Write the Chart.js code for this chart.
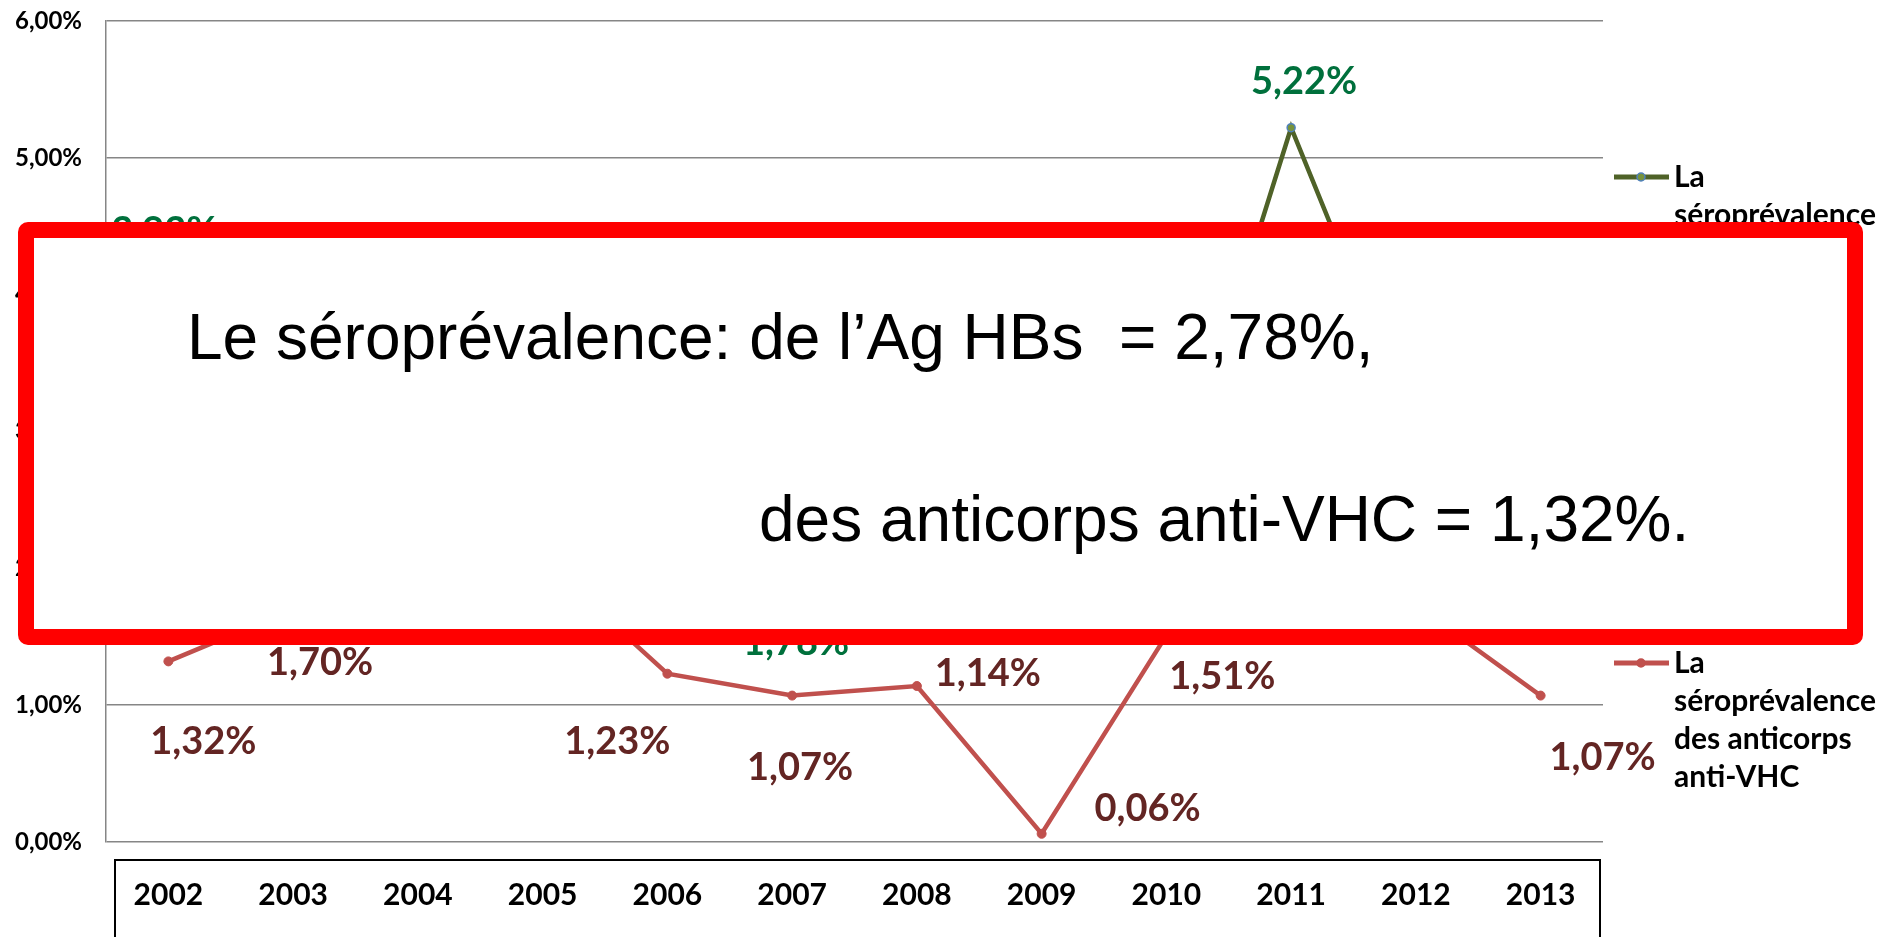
<!DOCTYPE html>
<html>
<head>
<meta charset="utf-8">
<script src="https://cdn.jsdelivr.net/npm/chart.js@4.4.0/dist/chart.umd.min.js"></script>
<style>
    html, body { margin: 0; padding: 0; background: #fff; }
    #wrap { position: relative; width: 1897px; height: 937px; overflow: hidden; }
    #chart { position: absolute; left: 0; top: 0; }
    #note {
        position: absolute; left: 18px; top: 222px; width: 1845px; height: 423px;
        box-sizing: border-box; border: 16px solid #ff0000; border-radius: 10px;
        background: #fff;
    }
    .line {
        position: absolute; font-family: "Liberation Sans", Arial, sans-serif;
        font-size: 64px; line-height: 64px; color: #000; white-space: pre;
    }
</style>
</head>
<body>
<div id="wrap">
    <canvas id="chart" width="1897" height="937"></canvas>
    <div id="note">
        <div class="line" style="left:153px; top:67px;">Le séroprévalence: de l’Ag HBs  = 2,78%,</div>
        <div class="line" style="left:725px; top:249px;">des anticorps anti-VHC = 1,32%.</div>
    </div>
</div>
<script>
// Séroprévalence Ag HBs / anticorps anti-VHC, 2002-2013

const years = ['2002', '2003', '2004', '2005', '2006', '2007', '2008', '2009', '2010', '2011', '2012', '2013'];
const agHBs = [3.93, 2.50, 2.20, 2.60, 2.40, 1.78, 2.10, 1.90, 2.31, 5.22, 2.98, 2.50];
const antiVHC = [1.32, 1.70, 1.62, 2.06, 1.23, 1.07, 1.14, 0.06, 1.51, 1.58, 1.73, 1.07];
const yTicks = [0, 1, 2, 3, 4, 5, 6];

const legendHBs = ['La', 'séroprévalence', 'de l’Ag HBs'];
const legendVHC = ['La', 'séroprévalence', 'des anticorps', 'anti-VHC'];

// labels were moved by hand in the original, so keep a shift per point
const hbsLabelShift = [[-4, -72], [13, -46], [13, -46], [13, -46], [13, -46], [4, 44],
                       [13, -46], [13, -46], [13, -46], [13, -46], [13, -46], [13, -46]];
const vhcLabelShift = [[35, 80], [27, 53], [0, -50], [0, -50], [-50, 68], [8, 72],
                       [71, -12], [106, -25], [56, 41], [0, -50], [0, -50], [62, 62]];

const FONT = 'Lato, "Open Sans", sans-serif';

function pct(v) {
    return v.toFixed(2).replace('.', ',') + '%';
}

const valueLabels = {
    id: 'valueLabels',
    afterDatasetsDraw(chart) {
        const ctx = chart.ctx;
        ctx.save();
        ctx.font = 'bold 38px ' + FONT;
        ctx.textAlign = 'center';
        ctx.textBaseline = 'middle';
        chart.data.datasets.forEach((ds, i) => {
            const meta = chart.getDatasetMeta(i);
            meta.data.forEach((pt, j) => {
                const s = ds.labelShift[j];
                ctx.fillStyle = ds.labelColor;
                ctx.fillText(pct(ds.data[j]), pt.x + s[0], pt.y + s[1]);
            });
        });
        ctx.restore();
    }
};

const sideLegend = {
    id: 'sideLegend',
    afterDraw(chart) {
        const ctx = chart.ctx;
        const x0 = chart.chartArea.right + 11;
        const tops = [177, 663];
        ctx.save();
        chart.data.datasets.forEach((ds, i) => {
            const y = tops[i];
            ctx.strokeStyle = ds.borderColor;
            ctx.lineWidth = 5;
            ctx.beginPath();
            ctx.moveTo(x0, y);
            ctx.lineTo(x0 + 55, y);
            ctx.stroke();
            ctx.beginPath();
            ctx.arc(x0 + 27, y, 4, 0, Math.PI * 2);
            ctx.fillStyle = ds.pointBackgroundColor;
            ctx.fill();
            ctx.lineWidth = 1.5;
            ctx.strokeStyle = ds.pointBorderColor;
            ctx.stroke();
            ctx.fillStyle = '#000';
            ctx.font = 'bold 30px ' + FONT;
            ctx.textAlign = 'left';
            ctx.textBaseline = 'middle';
            ds.legendLines.forEach((t, k) => ctx.fillText(t, x0 + 60, y + k * 38));
        });
        // table-like frame under the x axis
        const a = chart.chartArea;
        ctx.strokeStyle = '#000';
        ctx.lineWidth = 2;
        ctx.strokeRect(a.left + 9, a.bottom + 18, a.right - a.left - 12, 200);
        ctx.restore();
    }
};

const ctx = document.getElementById('chart').getContext('2d');
new Chart(ctx, {
    type: 'line',
    data: {
        labels: years,
        datasets: [{
            label: legendHBs.join(' '),
            data: agHBs,
            borderColor: '#4f6228',
            borderWidth: 4.5,
            pointBackgroundColor: '#77933c',
            pointBorderColor: '#4f81bd',
            pointBorderWidth: 1.5,
            pointRadius: 4,
            labelColor: '#00703c',
            labelShift: hbsLabelShift,
            legendLines: legendHBs,
            tension: 0
        }, {
            label: legendVHC.join(' '),
            data: antiVHC,
            borderColor: '#c0504d',
            borderWidth: 4.5,
            pointBackgroundColor: '#c0504d',
            pointBorderColor: '#c0504d',
            pointBorderWidth: 1,
            pointRadius: 4.5,
            labelColor: '#632523',
            labelShift: vhcLabelShift,
            legendLines: legendVHC,
            tension: 0
        }]
    },
    options: {
        responsive: false,
        animation: false,
        layout: { padding: { top: 21, right: 294, bottom: 0, left: 0 } },
        plugins: {
            legend: { display: false },
            tooltip: { enabled: false }
        },
        scales: {
            x: {
                offset: true,
                grid: { display: false },
                border: { display: false },
                ticks: {
                    color: '#000',
                    padding: 27,
                    maxRotation: 0,
                    font: { family: FONT, size: 30, weight: 'bold' }
                },
                afterFit: function(scale) { scale.height = 95; }
            },
            y: {
                min: 0,
                max: 6,
                afterBuildTicks: function(scale) {
                    scale.ticks = yTicks.map(v => ({ value: v }));
                },
                grid: { color: '#868686', lineWidth: 1.5, drawTicks: false },
                border: { display: true, color: '#868686', width: 1.5 },
                ticks: {
                    color: '#000',
                    padding: 24,
                    font: { family: FONT, size: 24, weight: 'bold' },
                    callback: function(value) { return pct(value); }
                },
                afterFit: function(scale) {
                    scale.width = 106;
                    scale.paddingTop = 0;
                    scale.paddingBottom = 0;
                }
            }
        }
    },
    plugins: [valueLabels, sideLegend]
});
</script>
</body>
</html>
